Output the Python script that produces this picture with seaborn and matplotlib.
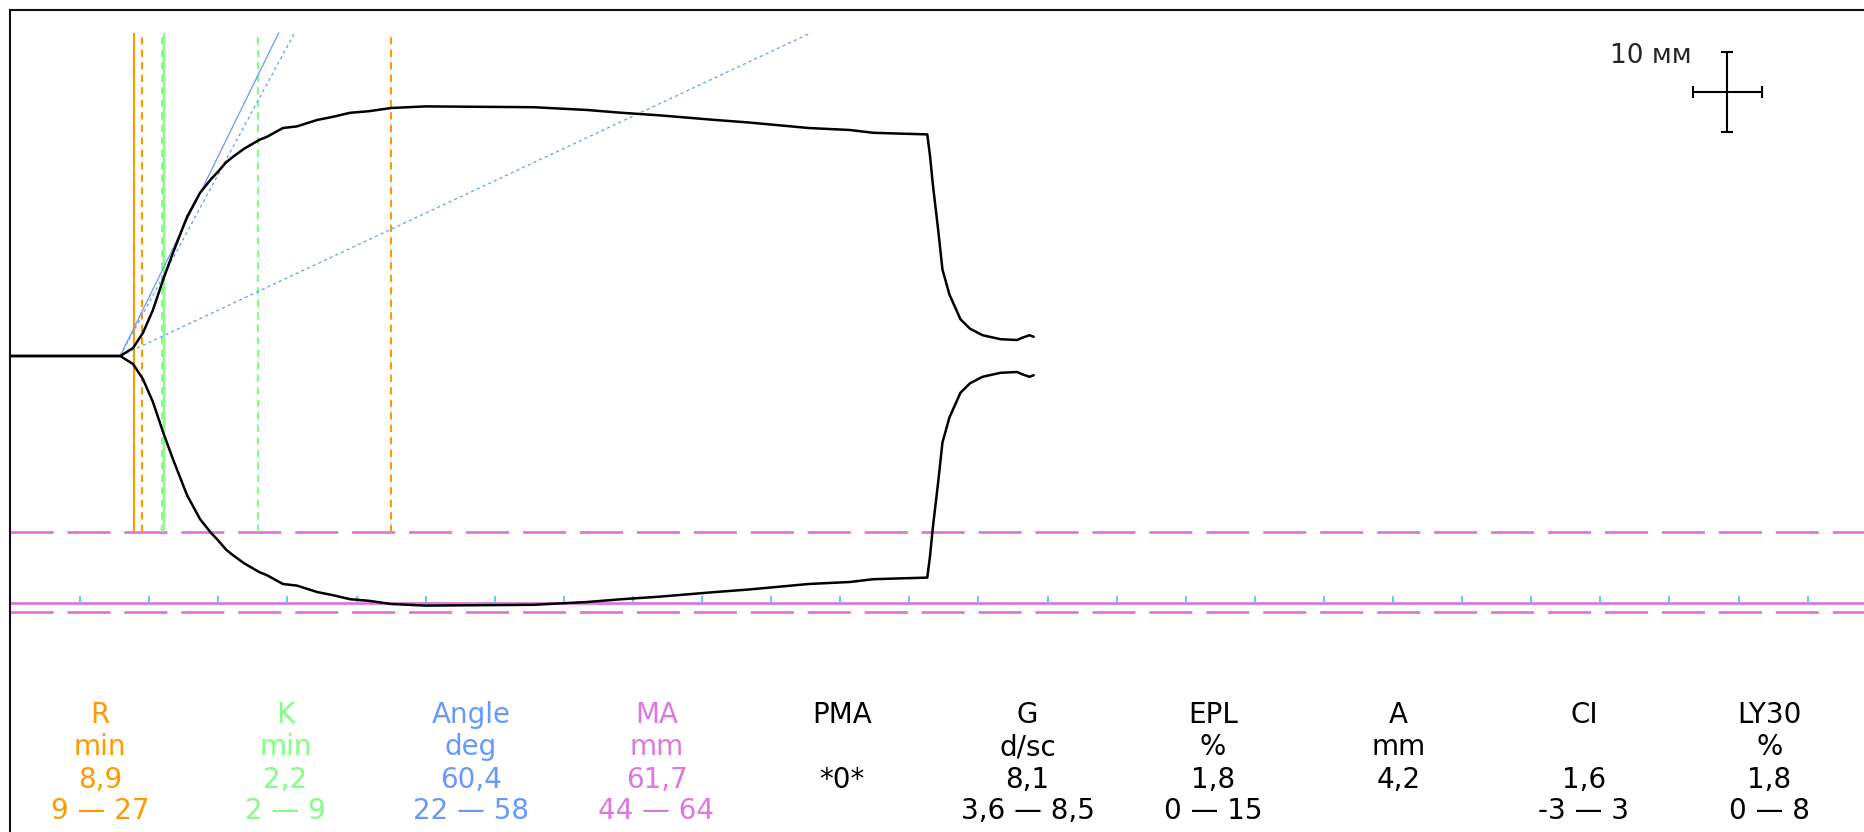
import math
import matplotlib
matplotlib.use("Agg")
import matplotlib.pyplot as plt
import seaborn as sns

# TEG trace: half amplitude (mm) over time (min), mirrored around the baseline
time_min = [0, 7.9, 8.83, 9.55, 10.27, 11.0, 11.72, 12.74, 13.68, 14.47, 14.91, 15.56, 16.06,
            16.86, 17.95, 18.52, 19.68, 20.69, 22.14, 23.3, 24.53, 25.9, 27.5, 30.0, 37.8,
            41.7, 44.2, 46.8, 48.9, 51.0, 53.3, 55.2, 57.7, 60.7, 62.4, 66.3, 66.5, 66.7,
            67.1, 67.4, 67.9, 68.7, 69.4, 70.3, 71.6, 72.8, 73.2, 73.7, 74.0]
amp_mm = [0, 0, 1.0, 2.9, 5.75, 9.5, 12.9, 17.4, 20.4, 22.1, 22.9, 24.2, 24.9,
          25.9, 27.0, 27.4, 28.5, 28.7, 29.5, 29.9, 30.4, 30.6, 31.0, 31.2, 31.1,
          30.75, 30.4, 30.1, 29.8, 29.5, 29.2, 28.9, 28.5, 28.25, 27.9, 27.7, 25.0, 21.5,
          15.6, 10.8, 7.7, 4.6, 3.4, 2.6, 2.1, 2.0, 2.3, 2.6, 2.4]

# markers
r_value = 8.9
k_value = 2.2
r_range_marks = [9.5, 27.5]      # orange dashed, as drawn
k_range = [2, 9]                 # green dashed, relative to R
angle_start = 7.9
angle_value = 60.4
angle_range = [22, 58]
ma_value = 61.7
ma_range = [44, 64]
tick_times = list(range(5, 135, 5))

# summary table
names = ["R", "K", "Angle", "MA", "PMA", "G", "EPL", "A", "CI", "LY30"]
units = ["min", "min", "deg", "mm", "", "d/sc", "%", "mm", "", "%"]
values = ["8,9", "2,2", "60,4", "61,7", "*0*", "8,1", "1,8", "4,2", "1,6", "1,8"]
ranges = ["9 \u2014 27", "2 \u2014 9", "22 \u2014 58", "44 \u2014 64", "", "3,6 \u2014 8,5",
          "0 \u2014 15", "", "-3 \u2014 3", "0 \u2014 8"]

ORANGE = "#FF9900"
GREEN = "#80FF80"
BLUE = "#6699FF"
MAGENTA = "#DD77DD"
TICK = "#6EC6F0"
text_colors = [ORANGE, GREEN, BLUE, MAGENTA] + ["black"] * 6

sns.set_style("white")
plt.rcParams['font.family'] = ['DejaVu Sans']

W, H = 1864, 832
fig = plt.figure(figsize=(W / 100, H / 100), dpi=100)
ax = fig.add_axes([10 / W, 0, 1 - 10 / W, 1 - 10 / H])
for side in ["right", "bottom"]:
    ax.spines[side].set_visible(False)
for side in ["left", "top"]:
    ax.spines[side].set_color("#111111")
    ax.spines[side].set_linewidth(1.5)
ax.set_xlim((10 - 11) / 13.82, (W - 11) / 13.82)
ax.set_ylim((356 - H) / 8, (356 - 10) / 8)
ax.set_xticks([])
ax.set_yticks([])

top = 40.4
bottom = -ma_range[0] / 2

# MA reference lines
ax.axhline(-ma_value / 2, color=MAGENTA, lw=2)
for m in ma_range:
    ax.axhline(-m / 2, color=MAGENTA, lw=2, linestyle=(0, (15.5, 5)))
ax.vlines(tick_times, -ma_value / 2, -ma_value / 2 + 0.8, color=TICK, lw=1.5)

# R / K markers
ax.vlines([r_value], bottom, top, color=ORANGE, lw=1.5)
ax.vlines(r_range_marks, bottom, top, color=ORANGE, lw=1.5, linestyle=(0, (3.5, 2.5)))
ax.vlines([r_value + k_value], bottom, top, color=GREEN, lw=1.5)
ax.vlines([r_value + k for k in k_range], bottom, top, color=GREEN, lw=1.5,
          linestyle=(0, (3.5, 2.5)))

# angle lines (2 mm per minute horizontally)
for ang, ls in [(angle_value, "-")] + [(a, (0, (2.5, 2.5))) for a in angle_range]:
    slope = 2 * math.tan(math.radians(ang))
    ax.plot([angle_start, angle_start + top / slope], [0, top], color=BLUE, lw=0.9, linestyle=ls)

# trace
sns.lineplot(x=time_min, y=amp_mm, ax=ax, color="black", lw=1.8, sort=False, estimator=None)
sns.lineplot(x=time_min, y=[-a for a in amp_mm], ax=ax, color="black", lw=1.8, sort=False,
             estimator=None)

# scale cross
ax.errorbar([124.2], [33.06], xerr=[2.5], yerr=[5], color="black", lw=1.5, capsize=4,
            capthick=1.5, fmt="none")
fig.text(1692 / W, 1 - 63 / H, "10 мм", ha="right", va="baseline", fontsize=19)

# summary table
for i in range(len(names)):
    cx = (100 + 185.5 * i) / W
    for txt, base in zip([names[i], units[i], values[i], ranges[i]], [723, 755, 788, 819]):
        fig.text(cx, 1 - base / H, txt, ha="center", va="baseline", fontsize=20,
                 color=text_colors[i])

fig.savefig("out.png", dpi=100)
